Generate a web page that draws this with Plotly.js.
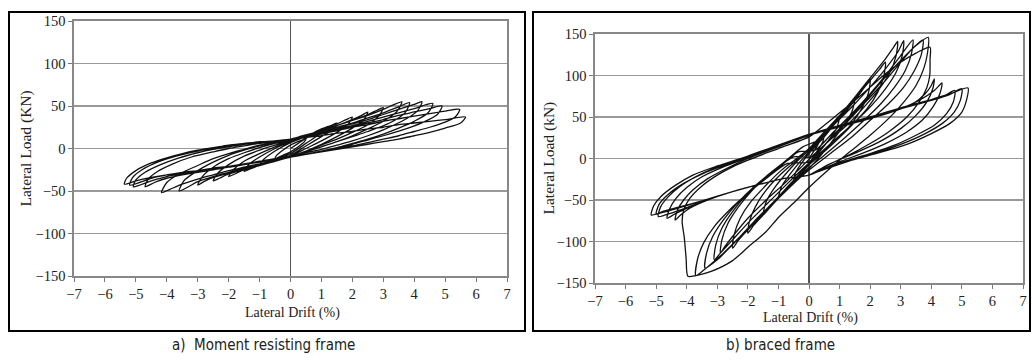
<!DOCTYPE html>
<html>
<head>
<meta charset="utf-8">
<script src="https://cdn.plot.ly/plotly-3.0.1.min.js"></script>
<style>html,body{margin:0;padding:0;background:#fff;}#chart{width:1032px;height:362px;}</style>
</head>
<body>
<div id="chart"></div>
<script>
// ---- Tick labels / axis values ----
const driftTicks = [-7, -6, -5, -4, -3, -2, -1, 0, 1, 2, 3, 4, 5, 6, 7];
const loadTicks = [-150, -100, -50, 0, 50, 100, 150];

// ---- a) Moment resisting frame : early cycles (drift %, load kN) ----
const mrfEarlyDrift = [
  0,0.25,0.5,0.45,0.25,0,-0.25,-0.5,-0.45,-0.25,0,
  0.5,0.8,1.0,0.9,0.5,0,-0.5,-0.8,-1.0,-0.9,-0.5,0,
  0.5,1.0,1.3,1.5,1.35,1.0,0.5,0,-0.5,-1.0,-1.3,-1.5,-1.35,-1.0,-0.5,0,
  0.5,1.0,1.5,1.8,2.0,1.85,1.5,1.0,0.5,0,-0.5,-1.0,-1.5,-1.8,-2.0,-1.85,-1.5,-1.0,-0.5,0,
  0.5,1.0,1.5,2.0,2.3,2.5,2.35,2.0,1.5,1.0,0.5,0,-0.5,-1.0,-1.5,-2.0,-2.3,-2.5,-2.35,-2.0,-1.5,-1.0,-0.5,0,
  0.5,1.0,1.5,2.0,2.5,2.8,3.0,2.85,2.5,2.0,1.5,1.0,0.5,0,-0.5,-1.0,-1.5,-2.0,-2.5,-2.8,-3.0,-2.85,-2.5,-2.0,-1.5,-1.0,-0.5,0,
  0.5,1.0,1.5,2.0,2.5,3.0,3.3,3.6,3.45,3.0,2.5,2.0,1.5,1.0,0.5,0,-0.5,-1.0,-1.5,-2.0,-2.5,-3.0,-3.3,-3.6,-3.45,-3.0,-2.5,-2.0,-1.5,-1.0,-0.5,0
];
const mrfEarlyLoad = [
  0,6,12,8,2,-4,-8,-12,-8,-2,4,
  12,18,22,16,6,-6,-13,-17,-20,-14,-3,7,
  14,23,27,30,22,14,3,-8,-14,-20,-24,-27,-19,-10,0,8,
  15,22,29,34,37,28,19,9,0,-9,-14,-19,-25,-30,-33,-25,-15,-6,2,9,
  15,21,27,34,39,43,33,24,14,5,-3,-10,-15,-20,-25,-30,-35,-38,-29,-19,-9,-2,4,10,
  16,21,27,33,40,45,48,38,28,19,11,4,-3,-10,-15,-20,-24,-29,-34,-39,-43,-33,-22,-12,-5,1,6,10,
  16,21,27,33,39,46,51,55,44,32,23,15,8,2,-4,-10,-15,-19,-23,-28,-33,-39,-45,-50,-38,-26,-16,-8,-2,3,7,11
];

// ---- a) Moment resisting frame : late cycles ----
const mrfLateDrift = [
  0.5,1.0,1.5,2.0,2.5,3.0,3.5,3.85,3.7,3.2,2.5,2.0,1.5,1.0,0.5,0,-0.5,-1.0,-1.5,-2.0,-2.5,-3.0,-3.5,-3.9,-4.17,-4.0,-3.6,-3.0,-2.5,-2.0,-1.5,-1.0,-0.5,0,
  0.5,1.0,1.5,2.0,2.5,3.0,3.5,4.0,4.25,4.1,3.6,3.0,2.5,2.0,1.5,1.0,0.5,0,-0.5,-1.0,-1.5,-2.0,-2.5,-3.0,-3.5,-4.0,-4.4,-4.7,-4.6,-4.3,-3.8,-3.2,-2.5,-2.0,-1.5,-1.0,-0.5,0,
  0.5,1.0,1.5,2.0,2.5,3.0,3.5,4.0,4.6,4.45,4.0,3.5,3.0,2.5,2.0,1.5,1.0,0.5,0,-0.5,-1.0,-1.5,-2.0,-2.5,-3.0,-3.5,-4.0,-4.5,-5.08,-5.0,-4.7,-4.2,-3.6,-3.0,-2.5,-2.0,-1.5,-1.0,-0.5,0,
  0.5,1.0,1.5,2.0,2.5,3.0,3.5,4.0,4.5,4.9,4.75,4.3,3.8,3.0,2.5,2.0,1.5,1.0,0.5,0,-0.5,-1.0,-1.5,-2.0,-2.5,-3.0,-3.5,-4.0,-4.5,-5.0,-5.37,-5.3,-5.0,-4.5,-4.0,-3.5,-3.0,-2.5,-2.0,-1.5,-1.0,-0.5,0,
  0.5,1.0,1.5,2.0,2.5,3.0,3.5,4.0,4.5,5.0,5.47,5.35,5.0,4.5,4.0,3.5,3.0,2.5,2.0,1.5,1.0,0.5,0,-0.5,-1.0,-1.5,-2.0,-2.5,-3.0,-3.5,-4.0,-4.5,-5.2,-5.1,-4.8,-4.3,-3.7,-3.0,-2.5,-2.0,-1.5,-1.0,-0.5,0,
  0.5,1.0,1.5,2.0,2.5,3.0,3.5,4.0,4.5,5.0,5.66,5.5,5.0,4.5,4.0,3.5,3.0,2.5,2.0,1.5,1.0,0.5,0
];
const mrfLateLoad = [
  16,20,25,30,36,42,49,54,42,30,20,14,8,2,-4,-10,-14,-18,-22,-26,-31,-36,-42,-48,-52,-40,-30,-20,-12,-6,-1,4,7,11,
  15,19,24,29,34,40,46,52,55,44,32,22,15,9,4,-1,-5,-10,-13,-16,-19,-22,-25,-28,-31,-35,-40,-45,-36,-27,-18,-10,-4,0,3,6,8,11,
  14,18,23,27,32,37,42,47,53,42,32,24,17,11,6,1,-3,-7,-10,-13,-16,-19,-22,-25,-27,-30,-33,-38,-45,-37,-28,-19,-11,-5,-1,2,5,7,9,11,
  14,18,22,26,30,34,39,43,47,50,40,31,24,15,10,5,1,-3,-7,-10,-13,-16,-19,-22,-24,-26,-29,-31,-34,-38,-42,-35,-26,-17,-11,-6,-2,1,4,6,8,9,11,
  14,17,21,25,28,32,35,38,41,44,46,38,31,25,20,15,11,7,3,0,-3,-7,-10,-12,-15,-18,-21,-23,-26,-28,-31,-35,-43,-34,-25,-16,-9,-3,0,3,5,7,9,10,
  13,15,18,20,23,25,28,30,32,34,37,30,24,19,15,11,8,5,2,-1,-4,-7,-10
];

// ---- b) Braced frame : stiff cycles before brace failure ----
const bfStiffDrift = [
  0,0.25,0.5,0.45,0.25,0,-0.25,-0.5,-0.45,-0.25,0,
  0.5,0.8,1.0,0.9,0.6,0.3,0,-0.5,-0.8,-1.0,-0.9,-0.6,-0.3,0,
  0.5,1.0,1.3,1.5,1.4,1.1,0.7,0.3,0,-0.5,-1.0,-1.3,-1.5,-1.4,-1.1,-0.7,-0.3,0,
  0.5,1.0,1.5,1.8,2.0,1.95,1.75,1.4,0.9,0.4,0,-0.5,-1.0,-1.5,-1.8,-2.0,-1.95,-1.75,-1.4,-0.9,-0.4,0,
  0.5,1.0,1.5,2.0,2.3,2.5,2.45,2.25,1.9,1.4,0.9,0.4,0,-0.5,-1.0,-1.5,-2.0,-2.3,-2.5,-2.45,-2.25,-1.9,-1.4,-0.9,-0.4,0,
  0.5,1.0,1.5,2.0,2.5,2.75,2.9,2.85,2.65,2.3,1.85,1.35,0.8,0.2,-0.3,-0.8,-1.4,-2.0,-2.5,-2.75,-2.9,-2.85,-2.65,-2.3,-1.85,-1.35,-0.8,-0.2,
  0.3,0.8,1.4,2.0,2.5,2.9,3.1,3.05,2.85,2.5,2.05,1.5,0.95,0.35,-0.2,-0.7,-1.3,-1.9,-2.5,-2.9,-3.1,-3.05,-2.85,-2.5,-2.05,-1.5,-0.95,-0.35,
  0.2,0.8,1.4,2.0,2.5,3.0,3.4,3.35,3.15,2.8,2.35,1.8,1.2,0.5,-0.1,-0.6,-1.2,-1.8,-2.4,-3.0,-3.4,-3.35,-3.15,-2.8,-2.35,-1.8,-1.2,-0.5,
  0.1,0.7,1.3,1.9,2.5,3.0,3.4,3.73,3.68,3.45,3.1,2.6,2.0,1.4,0.7,0,-0.5,-1.0,-1.6,-2.2,-2.8,-3.3,-3.7,-3.65,-3.45,-3.1,-2.6,-2.0,-1.4,-0.7,
  0,0.6,1.2,1.8,2.4,3.0,3.5,3.9,3.88,3.75,3.5,3.1,2.6,2.0,1.4,0.75,0,-0.4,-1.0,-1.4,-2.0,-2.5,-3.2,-3.7,-3.96
];
const bfStiffLoad = [
  0,14,30,20,8,-6,-16,-28,-18,-6,6,
  26,40,50,36,20,6,-8,-26,-38,-48,-34,-18,-4,8,
  28,48,62,72,56,38,18,0,-12,-30,-48,-60,-68,-52,-34,-16,0,10,
  28,48,70,85,95,80,62,42,22,5,-8,-28,-48,-68,-80,-90,-76,-58,-38,-18,-2,10,
  30,50,72,94,107,116,100,80,60,40,22,6,-6,-26,-46,-66,-86,-98,-108,-92,-72,-52,-32,-14,0,12,
  32,52,74,97,120,133,141,124,104,84,64,44,26,6,-12,-30,-50,-72,-94,-106,-114,-98,-78,-58,-38,-20,-4,14,
  22,40,62,86,108,128,142,124,104,84,64,44,26,6,-12,-30,-52,-74,-98,-114,-122,-104,-84,-64,-44,-26,-10,8,
  10,32,54,78,100,124,143,126,106,86,66,46,26,4,-14,-32,-54,-76,-100,-122,-132,-114,-94,-74,-54,-34,-16,2,
  2,24,46,70,94,116,133,143,126,106,86,66,46,26,6,-14,-30,-48,-70,-92,-114,-130,-141,-122,-102,-82,-62,-42,-24,-6,
  -4,20,44,68,94,118,136,146,128,108,88,68,48,28,10,-10,-35,-50,-71,-88,-107,-123,-136,-141,-142
];

// ---- b) Braced frame : after brace failure (pinched cycles) ----
const bfFailDrift = [
  -4.02,-4.08,-4.15,-4.1,-3.9,-3.5,-3.0,-2.5,-2.0,-1.0,0,0.5,1.0,1.5,2.0,2.5,3.0,3.5,3.96,3.96,3.95,
  3.85,3.6,3.2,2.6,2.0,1.3,0.6,0,-0.8,-1.6,-2.5,-3.3,-3.9,-4.2,-4.38,
  -4.3,-4.1,-3.8,-3.3,-2.7,-2.0,-1.0,0,1.0,2.0,2.8,3.4,3.8,4.0,4.1,
  4.05,3.85,3.5,3.0,2.3,1.6,0.9,0.3,0,-0.8,-1.6,-2.5,-3.4,-4.0,-4.4,-4.64,
  -4.55,-4.35,-4.0,-3.5,-2.8,-2.0,-1.0,0,1.0,2.0,3.0,3.6,4.1,4.35,
  4.28,4.05,3.7,3.2,2.5,1.8,1.0,0.3,0,-0.8,-1.6,-2.5,-3.5,-4.2,-4.7,-4.93,
  -4.85,-4.6,-4.2,-3.6,-2.9,-2.0,-1.0,0,1.0,2.0,3.0,3.8,4.4,4.77,
  4.72,4.5,4.1,3.5,2.8,2.0,1.2,0.4,0,-0.8,-1.6,-2.5,-3.5,-4.3,-4.9,-5.16,
  -5.08,-4.85,-4.4,-3.8,-3.0,-2.0,-1.0,0,1.0,2.0,3.0,4.0,4.6,5.0,
  4.95,4.75,4.35,3.8,3.0,2.2,1.3,0.5,0,-0.8,-1.6,-2.5,-3.5,-4.3,-4.8,-5.0,
  -4.9,-4.6,-4.1,-3.4,-2.6,-2.0,-1.0,0,1.0,2.0,3.0,4.0,4.7,5.2,
  5.15,5.0,4.6,4.0,3.2,2.3,1.4,0.6,0
];
const bfFailLoad = [
  -120,-95,-76,-62,-48,-33,-20,-10,-2,12,26,40,55,70,86,102,116,127,134,120,100,
  85,68,50,32,18,4,-8,-20,-24,-31,-40,-50,-60,-68,-74,
  -62,-50,-38,-24,-12,0,14,28,38,48,57,66,78,88,96,
  84,68,52,36,20,8,-3,-14,-20,-24,-31,-40,-51,-60,-67,-72,
  -60,-48,-35,-22,-10,1,15,29,39,49,60,70,82,91,
  78,62,46,32,18,7,-4,-15,-20,-24,-31,-40,-52,-62,-68,-70,
  -58,-46,-33,-20,-9,2,16,29,40,50,60,68,75,82,
  68,54,40,28,16,6,-3,-14,-20,-24,-31,-40,-51,-60,-66,-68,
  -57,-46,-33,-20,-9,3,16,29,40,50,60,70,77,84,
  70,56,42,30,17,7,-2,-12,-20,-24,-31,-40,-51,-59,-64,-67,
  -55,-43,-30,-17,-6,3,16,29,40,50,61,71,79,85,
  70,56,42,30,17,7,-2,-12,-20
];

// ---- Text ----
const leftYTitle = 'Lateral Load (KN)';
const rightYTitle = 'Lateral Load (kN)';
const xTitle = 'Lateral Drift (%)';
const captionA = 'a)  Moment resisting frame';
const captionB = 'b) braced frame';

const serif = '"Liberation Serif", "DejaVu Serif", serif';
const capFont = '"DejaVu Sans Condensed", "Noto Sans", sans-serif';

const lineStyle = {color: '#111', width: 1.3, shape: 'spline', smoothing: 0.7};

const traces = [
  {x: mrfEarlyDrift.concat(mrfLateDrift), y: mrfEarlyLoad.concat(mrfLateLoad),
   mode: 'lines', line: lineStyle, xaxis: 'x', yaxis: 'y', hoverinfo: 'skip'},
  {x: bfStiffDrift.concat(bfFailDrift), y: bfStiffLoad.concat(bfFailLoad),
   mode: 'lines', line: lineStyle, xaxis: 'x2', yaxis: 'y2', hoverinfo: 'skip'}
];

function xAxis(domain, anchor) {
  return {
    domain: domain, anchor: anchor, range: [-7, 7], tickvals: driftTicks,
    showgrid: false, zeroline: true, zerolinecolor: '#555', zerolinewidth: 1.3,
    showline: true, mirror: true, linecolor: '#888', linewidth: 1.6,
    ticks: 'outside', ticklen: 4, tickcolor: '#777', tickwidth: 1,
    tickfont: {family: serif, size: 14.5, color: '#222'}, fixedrange: true
  };
}
function yAxis(domain, anchor) {
  return {
    domain: domain, anchor: anchor, range: [-150, 150], tickvals: loadTicks,
    showgrid: true, gridcolor: '#999', gridwidth: 1.3,
    zeroline: true, zerolinecolor: '#999', zerolinewidth: 1.3,
    showline: true, mirror: true, linecolor: '#888', linewidth: 1.6,
    ticks: 'outside', ticklen: 4, tickcolor: '#777', tickwidth: 1,
    tickfont: {family: serif, size: 14.5, color: '#222'}, fixedrange: true
  };
}

const W = 1032, H = 362;
const px = v => v / W, py = v => 1 - v / H;

function note(text, x, y, size, family, angle) {
  return {text: text, xref: 'paper', yref: 'paper', x: px(x), y: py(y),
    xanchor: 'center', yanchor: 'middle', textangle: angle || 0,
    showarrow: false, font: {family: family, size: size, color: '#222'}};
}

const layout = {
  width: W, height: H, margin: {l: 0, r: 0, t: 0, b: 0},
  paper_bgcolor: '#fff', plot_bgcolor: '#fff', showlegend: false,
  xaxis: xAxis([px(74), px(507)], 'y'),
  yaxis: yAxis([py(276), py(21)], 'x'),
  xaxis2: xAxis([px(595), px(1023)], 'y2'),
  yaxis2: yAxis([py(283), py(34)], 'x2'),
  shapes: [
    {type: 'rect', xref: 'paper', yref: 'paper', x0: px(9), x1: px(525), y0: py(331), y1: py(12),
     line: {color: '#000', width: 2}},
    {type: 'rect', xref: 'paper', yref: 'paper', x0: px(533), x1: px(1030), y0: py(331), y1: py(12),
     line: {color: '#000', width: 2}}
  ],
  annotations: [
    note(leftYTitle, 26, 148.5, 15.5, serif, -90),
    note(rightYTitle, 548, 158.5, 15.5, serif, -90),
    note(xTitle, 292, 313, 14, serif),
    note(xTitle, 810, 318, 14, serif),
    note(captionA, 263, 345, 15, capFont),
    note(captionB, 780, 345, 15, capFont)
  ]
};

Plotly.newPlot('chart', traces, layout, {staticPlot: true, displayModeBar: false});
</script>
</body>
</html>
